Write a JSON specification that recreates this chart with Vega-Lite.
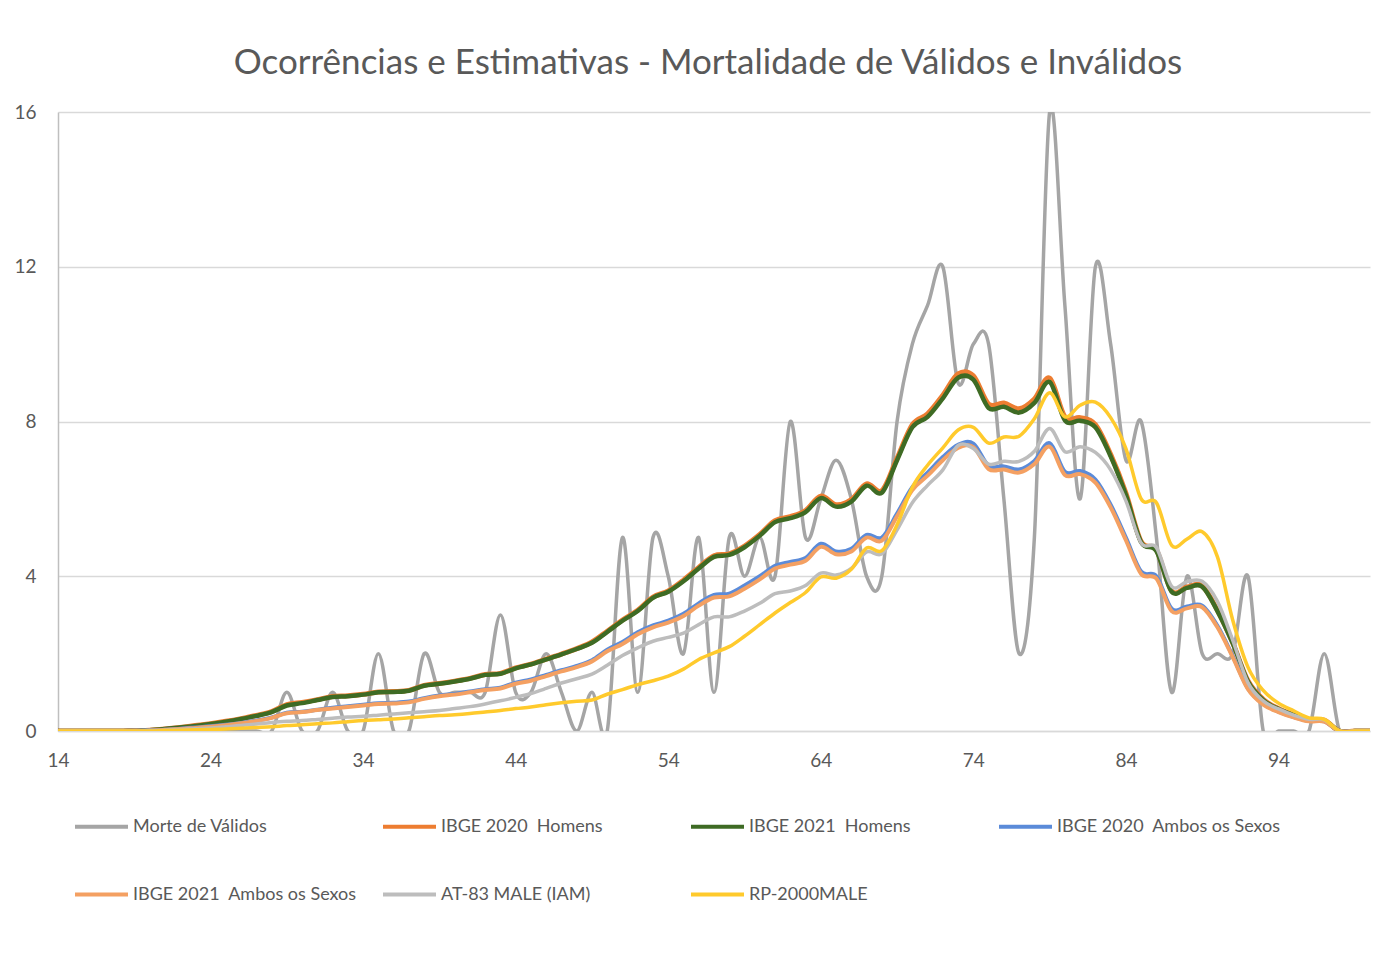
{
  "$schema": "https://vega.github.io/schema/vega-lite/v6.json",
  "width": 1312,
  "height": 619,
  "autosize": {"type": "none"},
  "padding": {"left": 58, "top": 112, "right": 24, "bottom": 246},
  "background": "white",
  "title": {
    "text": "Ocorrências e Estimativas - Mortalidade de Válidos e Inválidos",
    "font": "Lato",
    "fontSize": 35,
    "fontWeight": "normal",
    "color": "#595959",
    "anchor": "middle",
    "dx": -6,
    "offset": 22
  },
  "data": {
    "values": [
      {"a": 14, "m": 0, "h20": 0, "h21": 0, "a20": 0, "a21": 0, "at": 0, "rp": 0},
      {"a": 15, "m": 0, "h20": 0, "h21": 0, "a20": 0, "a21": 0, "at": 0, "rp": 0},
      {"a": 16, "m": 0, "h20": 0, "h21": 0, "a20": 0, "a21": 0, "at": 0, "rp": 0},
      {"a": 17, "m": 0, "h20": 0, "h21": 0, "a20": 0, "a21": 0, "at": 0, "rp": 0},
      {"a": 18, "m": 0, "h20": 0, "h21": 0, "a20": 0, "a21": 0, "at": 0, "rp": 0},
      {"a": 19, "m": 0, "h20": 0.01, "h21": 0.01, "a20": 0.01, "a21": 0.01, "at": 0, "rp": 0},
      {"a": 20, "m": 0, "h20": 0.02, "h21": 0.02, "a20": 0.02, "a21": 0.01, "at": 0.01, "rp": 0},
      {"a": 21, "m": 0, "h20": 0.05, "h21": 0.05, "a20": 0.03, "a21": 0.03, "at": 0.02, "rp": 0.01},
      {"a": 22, "m": 0, "h20": 0.09, "h21": 0.09, "a20": 0.06, "a21": 0.05, "at": 0.04, "rp": 0.02},
      {"a": 23, "m": 0, "h20": 0.14, "h21": 0.13, "a20": 0.09, "a21": 0.08, "at": 0.06, "rp": 0.03},
      {"a": 24, "m": 0, "h20": 0.19, "h21": 0.18, "a20": 0.12, "a21": 0.11, "at": 0.08, "rp": 0.04},
      {"a": 25, "m": 0, "h20": 0.25, "h21": 0.24, "a20": 0.16, "a21": 0.15, "at": 0.11, "rp": 0.05},
      {"a": 26, "m": 0, "h20": 0.32, "h21": 0.31, "a20": 0.21, "a21": 0.2, "at": 0.14, "rp": 0.07},
      {"a": 27, "m": 0, "h20": 0.4, "h21": 0.39, "a20": 0.27, "a21": 0.26, "at": 0.18, "rp": 0.09},
      {"a": 28, "m": 0, "h20": 0.5, "h21": 0.49, "a20": 0.35, "a21": 0.34, "at": 0.22, "rp": 0.11},
      {"a": 29, "m": 1, "h20": 0.68, "h21": 0.66, "a20": 0.47, "a21": 0.46, "at": 0.25, "rp": 0.14},
      {"a": 30, "m": 0, "h20": 0.74, "h21": 0.72, "a20": 0.5, "a21": 0.49, "at": 0.27, "rp": 0.16},
      {"a": 31, "m": 0, "h20": 0.81, "h21": 0.8, "a20": 0.55, "a21": 0.54, "at": 0.3, "rp": 0.19},
      {"a": 32, "m": 1, "h20": 0.89, "h21": 0.88, "a20": 0.6, "a21": 0.58, "at": 0.33, "rp": 0.21},
      {"a": 33, "m": 0, "h20": 0.91, "h21": 0.9, "a20": 0.64, "a21": 0.62, "at": 0.36, "rp": 0.24},
      {"a": 34, "m": 0, "h20": 0.95, "h21": 0.94, "a20": 0.68, "a21": 0.66, "at": 0.38, "rp": 0.27},
      {"a": 35, "m": 2, "h20": 1.01, "h21": 1.0, "a20": 0.72, "a21": 0.7, "at": 0.41, "rp": 0.29},
      {"a": 36, "m": 0, "h20": 1.02, "h21": 1.01, "a20": 0.73, "a21": 0.71, "at": 0.44, "rp": 0.31},
      {"a": 37, "m": 0, "h20": 1.05, "h21": 1.04, "a20": 0.76, "a21": 0.74, "at": 0.47, "rp": 0.34},
      {"a": 38, "m": 2, "h20": 1.18, "h21": 1.17, "a20": 0.85, "a21": 0.83, "at": 0.5, "rp": 0.37},
      {"a": 39, "m": 1, "h20": 1.23, "h21": 1.22, "a20": 0.92, "a21": 0.9, "at": 0.53, "rp": 0.4},
      {"a": 40, "m": 1, "h20": 1.29, "h21": 1.28, "a20": 0.96, "a21": 0.94, "at": 0.58, "rp": 0.42},
      {"a": 41, "m": 1, "h20": 1.36, "h21": 1.35, "a20": 1.02, "a21": 1.0, "at": 0.63, "rp": 0.45},
      {"a": 42, "m": 1, "h20": 1.46, "h21": 1.45, "a20": 1.08, "a21": 1.06, "at": 0.7, "rp": 0.49},
      {"a": 43, "m": 3, "h20": 1.49, "h21": 1.48, "a20": 1.12, "a21": 1.1, "at": 0.78, "rp": 0.53},
      {"a": 44, "m": 1, "h20": 1.63, "h21": 1.62, "a20": 1.25, "a21": 1.22, "at": 0.87, "rp": 0.58},
      {"a": 45, "m": 1, "h20": 1.73, "h21": 1.72, "a20": 1.33, "a21": 1.3, "at": 0.97, "rp": 0.62},
      {"a": 46, "m": 2, "h20": 1.86, "h21": 1.85, "a20": 1.45, "a21": 1.42, "at": 1.1, "rp": 0.68},
      {"a": 47, "m": 1, "h20": 1.99, "h21": 1.98, "a20": 1.57, "a21": 1.54, "at": 1.24, "rp": 0.73},
      {"a": 48, "m": 0, "h20": 2.13, "h21": 2.12, "a20": 1.68, "a21": 1.65, "at": 1.35, "rp": 0.77},
      {"a": 49, "m": 1, "h20": 2.3, "h21": 2.28, "a20": 1.83, "a21": 1.8, "at": 1.47, "rp": 0.8},
      {"a": 50, "m": 0, "h20": 2.58, "h21": 2.56, "a20": 2.1, "a21": 2.06, "at": 1.7, "rp": 0.95},
      {"a": 51, "m": 5, "h20": 2.87, "h21": 2.85, "a20": 2.3, "a21": 2.25, "at": 1.95, "rp": 1.07},
      {"a": 52, "m": 1, "h20": 3.12, "h21": 3.1, "a20": 2.55, "a21": 2.5, "at": 2.15, "rp": 1.2},
      {"a": 53, "m": 5, "h20": 3.46, "h21": 3.44, "a20": 2.73, "a21": 2.68, "at": 2.32, "rp": 1.3},
      {"a": 54, "m": 4, "h20": 3.62, "h21": 3.6, "a20": 2.85, "a21": 2.8, "at": 2.42, "rp": 1.42},
      {"a": 55, "m": 2, "h20": 3.9, "h21": 3.87, "a20": 3.03, "a21": 2.97, "at": 2.53, "rp": 1.6},
      {"a": 56, "m": 5, "h20": 4.23, "h21": 4.2, "a20": 3.3, "a21": 3.24, "at": 2.75, "rp": 1.85},
      {"a": 57, "m": 1, "h20": 4.53, "h21": 4.5, "a20": 3.52, "a21": 3.45, "at": 2.95, "rp": 2.02},
      {"a": 58, "m": 5, "h20": 4.58, "h21": 4.55, "a20": 3.55, "a21": 3.48, "at": 2.95, "rp": 2.18},
      {"a": 59, "m": 4, "h20": 4.78, "h21": 4.75, "a20": 3.76, "a21": 3.68, "at": 3.1, "rp": 2.45},
      {"a": 60, "m": 5, "h20": 5.08, "h21": 5.05, "a20": 4.0, "a21": 3.92, "at": 3.3, "rp": 2.75},
      {"a": 61, "m": 4, "h20": 5.44, "h21": 5.4, "a20": 4.27, "a21": 4.2, "at": 3.55, "rp": 3.05},
      {"a": 62, "m": 8, "h20": 5.54, "h21": 5.5, "a20": 4.37, "a21": 4.3, "at": 3.62, "rp": 3.32},
      {"a": 63, "m": 5, "h20": 5.7, "h21": 5.66, "a20": 4.47, "a21": 4.4, "at": 3.76, "rp": 3.58},
      {"a": 64, "m": 6, "h20": 6.07, "h21": 6.02, "a20": 4.84, "a21": 4.76, "at": 4.08, "rp": 3.98},
      {"a": 65, "m": 7, "h20": 5.85, "h21": 5.8, "a20": 4.64, "a21": 4.57, "at": 4.03, "rp": 3.95},
      {"a": 66, "m": 6, "h20": 5.98, "h21": 5.93, "a20": 4.71, "a21": 4.64, "at": 4.2, "rp": 4.18},
      {"a": 67, "m": 4, "h20": 6.39, "h21": 6.34, "a20": 5.07, "a21": 5.0, "at": 4.63, "rp": 4.73},
      {"a": 68, "m": 4, "h20": 6.21, "h21": 6.16, "a20": 5.0, "a21": 4.92, "at": 4.58, "rp": 4.66},
      {"a": 69, "m": 8, "h20": 7.05, "h21": 7.0, "a20": 5.62, "a21": 5.55, "at": 5.2, "rp": 5.33},
      {"a": 70, "m": 10, "h20": 7.92, "h21": 7.85, "a20": 6.3, "a21": 6.23, "at": 5.9, "rp": 6.3},
      {"a": 71, "m": 11, "h20": 8.2, "h21": 8.12, "a20": 6.68, "a21": 6.6, "at": 6.35, "rp": 6.87},
      {"a": 72, "m": 12, "h20": 8.68, "h21": 8.6, "a20": 7.08, "a21": 7.0, "at": 6.75, "rp": 7.32},
      {"a": 73, "m": 9, "h20": 9.23, "h21": 9.13, "a20": 7.4, "a21": 7.32, "at": 7.38, "rp": 7.78},
      {"a": 74, "m": 10, "h20": 9.18, "h21": 9.08, "a20": 7.43, "a21": 7.34, "at": 7.3, "rp": 7.85},
      {"a": 75, "m": 10, "h20": 8.45, "h21": 8.35, "a20": 6.86, "a21": 6.77, "at": 6.9, "rp": 7.44},
      {"a": 76, "m": 6, "h20": 8.48, "h21": 8.38, "a20": 6.84, "a21": 6.76, "at": 6.97, "rp": 7.6},
      {"a": 77, "m": 2, "h20": 8.33, "h21": 8.23, "a20": 6.76, "a21": 6.68, "at": 6.97, "rp": 7.62},
      {"a": 78, "m": 5, "h20": 8.58, "h21": 8.48, "a20": 6.98, "a21": 6.9, "at": 7.23, "rp": 8.07},
      {"a": 79, "m": 16, "h20": 9.12, "h21": 9.02, "a20": 7.44, "a21": 7.35, "at": 7.82, "rp": 8.74},
      {"a": 80, "m": 11, "h20": 8.12, "h21": 8.03, "a20": 6.7, "a21": 6.62, "at": 7.22, "rp": 8.12},
      {"a": 81, "m": 6, "h20": 8.1, "h21": 8.02, "a20": 6.72, "a21": 6.64, "at": 7.35, "rp": 8.42},
      {"a": 82, "m": 12, "h20": 7.92, "h21": 7.85, "a20": 6.5, "a21": 6.42, "at": 7.2, "rp": 8.5},
      {"a": 83, "m": 10, "h20": 7.15, "h21": 7.1, "a20": 5.85, "a21": 5.78, "at": 6.75, "rp": 8.1},
      {"a": 84, "m": 7, "h20": 6.15, "h21": 6.1, "a20": 5.0, "a21": 4.93, "at": 5.95, "rp": 7.3},
      {"a": 85, "m": 8, "h20": 4.9, "h21": 4.88, "a20": 4.12, "a21": 4.06, "at": 4.86, "rp": 6.0},
      {"a": 86, "m": 5, "h20": 4.68, "h21": 4.65, "a20": 4.0, "a21": 3.94, "at": 4.74, "rp": 5.9},
      {"a": 87, "m": 1, "h20": 3.62, "h21": 3.6, "a20": 3.16, "a21": 3.1, "at": 3.74, "rp": 4.8},
      {"a": 88, "m": 4, "h20": 3.72, "h21": 3.7, "a20": 3.22, "a21": 3.17, "at": 3.86, "rp": 4.96},
      {"a": 89, "m": 2, "h20": 3.75, "h21": 3.73, "a20": 3.24, "a21": 3.2, "at": 3.87, "rp": 5.15},
      {"a": 90, "m": 2, "h20": 3.12, "h21": 3.1, "a20": 2.72, "a21": 2.68, "at": 3.35, "rp": 4.5},
      {"a": 91, "m": 2, "h20": 2.28, "h21": 2.27, "a20": 1.94, "a21": 1.91, "at": 2.35, "rp": 2.87},
      {"a": 92, "m": 4, "h20": 1.3, "h21": 1.28, "a20": 1.1, "a21": 1.08, "at": 1.25, "rp": 1.65},
      {"a": 93, "m": 0, "h20": 0.82, "h21": 0.8, "a20": 0.7, "a21": 0.68, "at": 0.78, "rp": 1.05},
      {"a": 94, "m": 0, "h20": 0.58, "h21": 0.57, "a20": 0.5, "a21": 0.49, "at": 0.57, "rp": 0.72},
      {"a": 95, "m": 0, "h20": 0.42, "h21": 0.41, "a20": 0.36, "a21": 0.35, "at": 0.41, "rp": 0.52},
      {"a": 96, "m": 0, "h20": 0.29, "h21": 0.28, "a20": 0.26, "a21": 0.25, "at": 0.3, "rp": 0.34},
      {"a": 97, "m": 2, "h20": 0.28, "h21": 0.27, "a20": 0.25, "a21": 0.24, "at": 0.29, "rp": 0.3},
      {"a": 98, "m": 0, "h20": 0, "h21": 0, "a20": 0, "a21": 0, "at": 0, "rp": 0},
      {"a": 99, "m": 0, "h20": 0, "h21": 0, "a20": 0, "a21": 0, "at": 0, "rp": 0},
      {"a": 100, "m": 0, "h20": 0, "h21": 0, "a20": 0, "a21": 0, "at": 0, "rp": 0}
    ]
  },
  "encoding": {
    "x": {
      "field": "a",
      "type": "quantitative",
      "title": null,
      "scale": {"domain": [14, 100], "nice": false, "zero": false},
      "axis": {
        "values": [14, 24, 34, 44, 54, 64, 74, 84, 94],
        "grid": false,
        "ticks": false,
        "domain": true,
        "domainColor": "#D9D9D9",
        "domainWidth": 1.5,
        "labelFont": "Lato",
        "labelFontSize": 19,
        "labelColor": "#595959",
        "labelPadding": 20,
        "labelFlush": false
      }
    }
  },
  "layer": [
    {
      "mark": {"type": "line", "interpolate": "cardinal", "clip": true, "strokeWidth": 3.5, "strokeJoin": "round", "strokeCap": "round"},
      "encoding": {
        "y": {"field": "m", "type": "quantitative", "title": null, "scale": {"domain": [0, 16], "nice": false},
          "axis": {"values": [0, 4, 8, 12, 16], "grid": true, "gridColor": "#D9D9D9", "gridWidth": 1.5, "ticks": false, "domain": true, "domainColor": "#BFBFBF", "domainWidth": 1.5, "labelFont": "Lato", "labelFontSize": 19, "labelColor": "#595959", "labelPadding": 22, "labelFlush": false}},
        "color": {
          "datum": "Morte de Válidos",
          "type": "nominal",
          "scale": {
            "domain": ["Morte de Válidos", "IBGE 2020 \u00a0Homens", "IBGE 2021 \u00a0Homens", "IBGE 2020 \u00a0Ambos os Sexos", "IBGE 2021 \u00a0Ambos os Sexos", "AT-83 MALE (IAM)", "RP-2000MALE"],
            "range": ["#A5A5A5", "#ED7D31", "#3E6B24", "#5B8BD9", "#F4A062", "#BDBDBD", "#FFCA2C"]
          },
          "legend": {
            "title": null,
            "orient": "none",
            "legendX": 15,
            "legendY": 686,
            "direction": "horizontal",
            "columns": 4,
            "gridAlign": "all",
            "columnPadding": 18,
            "rowPadding": 30,
            "symbolType": "stroke",
            "symbolSize": 2809,
            "symbolStrokeWidth": 4,
            "labelFont": "Lato",
            "labelFontSize": 18,
            "labelColor": "#595959",
            "labelOffset": 3,
            "labelLimit": 400
          }
        }
      }
    },
    {
      "mark": {"type": "line", "interpolate": "cardinal", "clip": true, "strokeWidth": 5, "strokeJoin": "round", "strokeCap": "round"},
      "encoding": {
        "y": {"field": "h20", "type": "quantitative", "title": null},
        "color": {"datum": "IBGE 2020 \u00a0Homens", "type": "nominal"}
      }
    },
    {
      "mark": {"type": "line", "interpolate": "cardinal", "clip": true, "strokeWidth": 4.5, "strokeJoin": "round", "strokeCap": "round"},
      "encoding": {
        "y": {"field": "h21", "type": "quantitative", "title": null},
        "color": {"datum": "IBGE 2021 \u00a0Homens", "type": "nominal"}
      }
    },
    {
      "mark": {"type": "line", "interpolate": "cardinal", "clip": true, "strokeWidth": 4, "strokeJoin": "round", "strokeCap": "round"},
      "encoding": {
        "y": {"field": "a20", "type": "quantitative", "title": null},
        "color": {"datum": "IBGE 2020 \u00a0Ambos os Sexos", "type": "nominal"}
      }
    },
    {
      "mark": {"type": "line", "interpolate": "cardinal", "clip": true, "strokeWidth": 4, "strokeJoin": "round", "strokeCap": "round"},
      "encoding": {
        "y": {"field": "a21", "type": "quantitative", "title": null},
        "color": {"datum": "IBGE 2021 \u00a0Ambos os Sexos", "type": "nominal"}
      }
    },
    {
      "mark": {"type": "line", "interpolate": "cardinal", "clip": true, "strokeWidth": 3.5, "strokeJoin": "round", "strokeCap": "round"},
      "encoding": {
        "y": {"field": "at", "type": "quantitative", "title": null},
        "color": {"datum": "AT-83 MALE (IAM)", "type": "nominal"}
      }
    },
    {
      "mark": {"type": "line", "interpolate": "cardinal", "clip": true, "strokeWidth": 3.5, "strokeJoin": "round", "strokeCap": "round"},
      "encoding": {
        "y": {"field": "rp", "type": "quantitative", "title": null},
        "color": {"datum": "RP-2000MALE", "type": "nominal"}
      }
    }
  ],
  "config": {
    "view": {"stroke": null}
  }
}
